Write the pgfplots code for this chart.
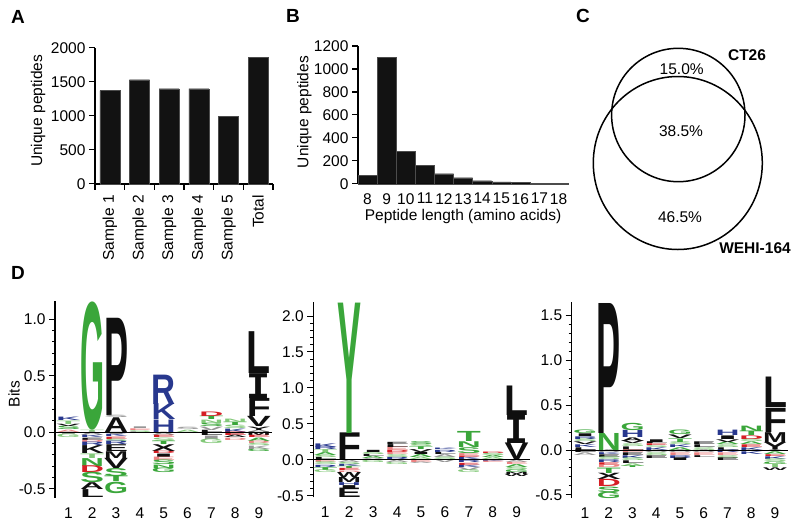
\documentclass[border=0pt]{standalone}
\usepackage{pgfplots}
\pgfplotsset{compat=1.18}
\usepackage{fontspec}
\setmainfont{Liberation Sans}
\newfontfamily\monof{Liberation Mono}
\usepackage{graphicx}

\definecolor{lg}{RGB}{58,166,58}
\definecolor{lb}{RGB}{40,56,142}
\definecolor{lr}{RGB}{214,30,36}
\definecolor{lk}{RGB}{15,15,15}
\definecolor{lpk}{RGB}{236,130,130}
\definecolor{llg}{RGB}{130,200,120}
\definecolor{lgy}{RGB}{150,150,150}

% letter of a sequence logo: x, bottom, top, letter, colour ; \U = pt per bit
\newcommand{\Ltr}[5]{\node[inner sep=0pt,outer sep=0pt,anchor=south,text=#5] at (axis cs:#1,#2) {\pgfmathsetlengthmacro\hh{((#3)-(#2))*\U}\resizebox{24pt}{\hh}{\bfseries #4}};}

\pgfplotsset{
  barpanel/.style={scale only axis, axis lines*=left, tick align=outside,
    major tick length=6pt, axis line style={line width=1.6pt},
    tick style={line width=1.2pt,black},
    /pgf/number format/assume math mode=true, /pgf/number format/1000 sep={},
    ylabel style={anchor=center}, clip=false},
  logo/.style={scale only axis, axis lines*=left, x axis line style={draw=none},
    xtick={1,...,9}, xtick style={draw=none}, tick align=outside,
    major tick length=6pt, minor tick length=3pt, minor y tick num=4,
    y axis line style={line width=1.3pt}, ytick style={line width=1pt,black},
    /pgf/number format/assume math mode=true,
    yticklabel style={/pgf/number format/.cd, fixed, fixed zerofill, precision=1},
    clip=false}
}

\begin{document}
\begin{tikzpicture}[font=\fontsize{15.5}{18}\selectfont]
\useasboundingbox (0,0) rectangle (800pt,-523pt);

% ---------------- A ----------------
\node[font=\fontsize{19}{22}\selectfont\bfseries] at (18pt,-16.7pt) {A};
\begin{axis}[barpanel, at={(95pt,-183.7pt)}, anchor=south west,
  width=178pt, height=136pt, xmin=0.5, xmax=6.5, ymin=0, ymax=2000,
  ytick={0,500,...,2000},
  xtick={0.5,1.5,...,6.5}, xticklabels={},
  extra x ticks={1,2,3,4,5,6},
  extra x tick labels={Sample 1,Sample 2,Sample 3,Sample 4,Sample 5,Total},
  extra x tick style={major tick length=0pt, xticklabel style={rotate=90, anchor=east, xshift=-8pt}},
  ylabel={Unique peptides}, ylabel style={at={(axis description cs:-0.32,0.535)}}]
\addplot[ybar, bar width=20pt, fill=black!93, draw=black!70, line width=0.4pt] coordinates {
  (1,1368) (2,1529) (3,1397) (4,1397) (5,995) (6,1863)};
\end{axis}

% ---------------- B ----------------
\node[font=\fontsize{19}{22}\selectfont\bfseries] at (293pt,-16pt) {B};
\begin{axis}[barpanel, at={(358pt,-183.7pt)}, anchor=south west,
  width=210.1pt, height=137.7pt, xmin=7.5, xmax=18.5, ymin=0, ymax=1200,
  ytick={0,200,...,1200}, xtick={8,...,18}, xtick style={draw=none},
  ylabel={Unique peptides}, ylabel style={at={(axis description cs:-0.255,0.52)}},
  xlabel={Peptide length (amino acids)}, xlabel style={at={(axis description cs:0.5,-0.24)}, anchor=center}]
\addplot[ybar, bar width=19.1pt, fill=black!93, draw=black!70, line width=0.4pt] coordinates {
  (8,70) (9,1099) (10,279) (11,157) (12,87) (13,52) (14,26) (15,15) (16,10) (17,6) (18,4)};
\end{axis}

% ---------------- C ----------------
\node[font=\fontsize{19}{22}\selectfont\bfseries] at (583pt,-16pt) {C};
\draw[line width=1.5pt] (678.3pt,-115pt) circle [radius=66.7pt];
\draw[line width=1.5pt] (677.8pt,-163pt) ellipse [x radius=84.5pt, y radius=86.5pt];
\node at (681.7pt,-69pt) {15.0\%};
\node at (681pt,-130.7pt) {38.5\%};
\node at (680pt,-216.7pt) {46.5\%};
\node[font=\fontsize{15.5}{18}\selectfont\bfseries] at (747pt,-55pt) {CT26};
\node[font=\fontsize{15.5}{18}\selectfont\bfseries] at (755pt,-248pt) {WEHI-164};

% ---------------- D ----------------
\node[font=\fontsize{19}{22}\selectfont\bfseries] at (18pt,-273pt) {D};

\def\U{113}
\begin{axis}[logo, at={(55pt,-497.8pt)}, anchor=south west,
  width=215.9pt, height=197.2pt, xmin=0.44, xmax=9.5, ymin=-0.58, ymax=1.165,
  ytick={-0.5,0,0.5,1},
  ylabel={Bits}, ylabel style={at={(axis description cs:-0.19,0.526)}, anchor=center}]
\Ltr{1}{0}{0.02}{A}{lpk}
\Ltr{1}{0.02}{0.05}{S}{lg}
\Ltr{1}{0.05}{0.07}{V}{lk}
\Ltr{1}{0.07}{0.10}{T}{llg}
\Ltr{1}{0.10}{0.13}{K}{lb}
\Ltr{1}{-0.02}{0}{I}{lgy}
\Ltr{1}{-0.05}{-0.02}{G}{llg}
\Ltr{2}{0.02}{1.14}{G}{lg}
\Ltr{2}{0}{0.02}{T}{llg}
\Ltr{2}{-0.03}{0}{A}{lgy}
\Ltr{2}{-0.05}{-0.03}{K}{lb}
\Ltr{2}{-0.07}{-0.05}{E}{lk}
\Ltr{2}{-0.09}{-0.07}{D}{lpk}
\Ltr{2}{-0.12}{-0.09}{R}{lb}
\Ltr{2}{-0.19}{-0.12}{K}{lk}
\Ltr{2}{-0.23}{-0.19}{T}{llg}
\Ltr{2}{-0.30}{-0.23}{N}{lg}
\Ltr{2}{-0.36}{-0.30}{D}{lr}
\Ltr{2}{-0.45}{-0.36}{S}{lg}
\Ltr{2}{-0.51}{-0.45}{A}{lk}
\Ltr{2}{-0.58}{-0.51}{L}{lk}
\Ltr{3}{0.15}{1.01}{P}{lk}
\Ltr{3}{0.13}{0.15}{S}{lgy}
\Ltr{3}{0}{0.13}{A}{lk}
\Ltr{3}{-0.02}{0}{I}{lgy}
\Ltr{3}{-0.04}{-0.02}{K}{lb}
\Ltr{3}{-0.06}{-0.04}{E}{lr}
\Ltr{3}{-0.08}{-0.06}{S}{llg}
\Ltr{3}{-0.11}{-0.08}{R}{lb}
\Ltr{3}{-0.17}{-0.11}{E}{lk}
\Ltr{3}{-0.23}{-0.17}{M}{lk}
\Ltr{3}{-0.32}{-0.23}{V}{lk}
\Ltr{3}{-0.39}{-0.32}{S}{lg}
\Ltr{3}{-0.44}{-0.39}{T}{lg}
\Ltr{3}{-0.54}{-0.44}{G}{lg}
\Ltr{4}{0}{0.015}{S}{llg}
\Ltr{4}{0.015}{0.03}{E}{lpk}
\Ltr{4}{0.03}{0.045}{I}{lgy}
\Ltr{4}{-0.015}{0}{L}{lgy}
\Ltr{5}{0}{0.11}{H}{lb}
\Ltr{5}{0.11}{0.25}{K}{lb}
\Ltr{5}{0.25}{0.51}{R}{lb}
\Ltr{5}{-0.03}{0}{A}{lgy}
\Ltr{5}{-0.05}{-0.03}{E}{lr}
\Ltr{5}{-0.08}{-0.05}{S}{llg}
\Ltr{5}{-0.11}{-0.08}{T}{lg}
\Ltr{5}{-0.17}{-0.11}{X}{lk}
\Ltr{5}{-0.19}{-0.17}{D}{lr}
\Ltr{5}{-0.22}{-0.19}{I}{lk}
\Ltr{5}{-0.25}{-0.22}{E}{lpk}
\Ltr{5}{-0.29}{-0.25}{S}{lg}
\Ltr{5}{-0.32}{-0.29}{N}{lg}
\Ltr{5}{-0.36}{-0.32}{G}{lg}
\Ltr{6}{0}{0.02}{A}{llg}
\Ltr{6}{0.02}{0.04}{S}{lgy}
\Ltr{6}{-0.01}{0}{L}{lgy}
\Ltr{7}{0}{0.02}{L}{lk}
\Ltr{7}{0.02}{0.05}{V}{lgy}
\Ltr{7}{0.05}{0.08}{S}{lg}
\Ltr{7}{0.08}{0.11}{N}{llg}
\Ltr{7}{0.11}{0.14}{T}{lg}
\Ltr{7}{0.14}{0.18}{D}{lr}
\Ltr{7}{-0.03}{0}{L}{lk}
\Ltr{7}{-0.06}{-0.03}{I}{lgy}
\Ltr{7}{-0.10}{-0.06}{G}{llg}
\Ltr{8}{0}{0.03}{K}{lb}
\Ltr{8}{0.03}{0.06}{S}{llg}
\Ltr{8}{0.06}{0.09}{T}{lg}
\Ltr{8}{0.09}{0.12}{N}{llg}
\Ltr{8}{-0.03}{0}{E}{lr}
\Ltr{8}{-0.05}{-0.03}{A}{lk}
\Ltr{8}{-0.07}{-0.05}{D}{lpk}
\Ltr{9}{0}{0.02}{A}{lgy}
\Ltr{9}{0.02}{0.05}{Y}{lk}
\Ltr{9}{0.05}{0.14}{V}{lk}
\Ltr{9}{0.14}{0.30}{F}{lk}
\Ltr{9}{0.30}{0.52}{\monof I}{lk}
\Ltr{9}{0.52}{0.89}{L}{lk}
\Ltr{9}{-0.03}{0}{M}{lk}
\Ltr{9}{-0.05}{-0.03}{E}{lr}
\Ltr{9}{-0.08}{-0.05}{A}{lg}
\Ltr{9}{-0.10}{-0.08}{R}{lpk}
\Ltr{9}{-0.12}{-0.10}{S}{llg}
\Ltr{9}{-0.15}{-0.12}{K}{lgy}
\Ltr{9}{-0.17}{-0.15}{G}{lg}
\addplot[black, line width=1pt] coordinates {(0.44,0) (9.55,0)};
\end{axis}

\def\U{72}
\begin{axis}[logo, at={(313.3pt,-497.4pt)}, anchor=south west,
  width=215.4pt, height=195.8pt, xmin=0.5, xmax=9.5, ymin=-0.52, ymax=2.2,
  ytick={-0.5,0,0.5,1,1.5,2}]
\Ltr{1}{0}{0.03}{L}{lk}
\Ltr{1}{0.03}{0.06}{S}{llg}
\Ltr{1}{0.06}{0.10}{A}{lg}
\Ltr{1}{0.10}{0.14}{T}{llg}
\Ltr{1}{0.14}{0.18}{R}{lb}
\Ltr{1}{0.18}{0.23}{K}{lb}
\Ltr{1}{-0.03}{0}{E}{lpk}
\Ltr{1}{-0.07}{-0.03}{S}{llg}
\Ltr{1}{-0.10}{-0.07}{R}{lb}
\Ltr{1}{-0.14}{-0.10}{T}{lg}
\Ltr{1}{-0.18}{-0.14}{G}{llg}
\Ltr{2}{0}{0.37}{F}{lk}
\Ltr{2}{0.37}{2.18}{Y}{lg}
\Ltr{2}{-0.03}{0}{A}{lgy}
\Ltr{2}{-0.06}{-0.03}{S}{llg}
\Ltr{2}{-0.09}{-0.06}{K}{lb}
\Ltr{2}{-0.12}{-0.09}{T}{lg}
\Ltr{2}{-0.15}{-0.12}{E}{lr}
\Ltr{2}{-0.17}{-0.15}{D}{lpk}
\Ltr{2}{-0.24}{-0.17}{W}{lk}
\Ltr{2}{-0.31}{-0.24}{M}{lk}
\Ltr{2}{-0.35}{-0.31}{H}{lb}
\Ltr{2}{-0.39}{-0.35}{I}{lk}
\Ltr{2}{-0.52}{-0.39}{E}{lk}
\Ltr{3}{0}{0.02}{A}{lgy}
\Ltr{3}{0.02}{0.05}{A}{lg}
\Ltr{3}{0.05}{0.08}{L}{lk}
\Ltr{3}{0.08}{0.11}{S}{llg}
\Ltr{3}{0.11}{0.14}{I}{lk}
\Ltr{3}{-0.03}{0}{G}{llg}
\Ltr{4}{0}{0.03}{R}{lb}
\Ltr{4}{0.03}{0.07}{S}{llg}
\Ltr{4}{0.07}{0.10}{E}{lpk}
\Ltr{4}{0.10}{0.13}{D}{lr}
\Ltr{4}{0.13}{0.18}{E}{lpk}
\Ltr{4}{0.18}{0.22}{L}{lk}
\Ltr{4}{0.22}{0.25}{E}{lk}
\Ltr{4}{-0.03}{0}{A}{lgy}
\Ltr{4}{-0.06}{-0.03}{G}{llg}
\Ltr{5}{0}{0.03}{A}{llg}
\Ltr{5}{0.03}{0.07}{A}{lg}
\Ltr{5}{0.07}{0.10}{I}{lk}
\Ltr{5}{0.10}{0.14}{V}{lk}
\Ltr{5}{0.14}{0.18}{T}{lg}
\Ltr{5}{0.18}{0.21}{S}{llg}
\Ltr{5}{0.21}{0.25}{S}{lg}
\Ltr{5}{-0.03}{0}{E}{lpk}
\Ltr{5}{-0.05}{-0.03}{A}{lgy}
\Ltr{6}{0}{0.04}{S}{llg}
\Ltr{6}{0.04}{0.08}{A}{lgy}
\Ltr{6}{0.08}{0.11}{L}{lk}
\Ltr{6}{0.11}{0.14}{R}{lb}
\Ltr{6}{0.14}{0.16}{K}{lb}
\Ltr{6}{-0.04}{0}{V}{lgy}
\Ltr{7}{0}{0.03}{K}{lb}
\Ltr{7}{0.03}{0.05}{E}{lr}
\Ltr{7}{0.05}{0.09}{E}{lpk}
\Ltr{7}{0.09}{0.17}{S}{lg}
\Ltr{7}{0.17}{0.25}{N}{lg}
\Ltr{7}{0.25}{0.39}{T}{lg}
\Ltr{7}{-0.04}{0}{R}{lb}
\Ltr{7}{-0.07}{-0.04}{E}{lr}
\Ltr{7}{-0.10}{-0.07}{K}{lb}
\Ltr{7}{-0.14}{-0.10}{V}{lgy}
\Ltr{7}{-0.18}{-0.14}{G}{llg}
\Ltr{8}{0}{0.03}{A}{llg}
\Ltr{8}{0.03}{0.06}{A}{lg}
\Ltr{8}{0.06}{0.09}{S}{llg}
\Ltr{8}{0.09}{0.11}{D}{lr}
\Ltr{8}{-0.02}{0}{K}{lb}
\Ltr{8}{-0.04}{-0.02}{E}{lpk}
\Ltr{9}{0}{0.23}{V}{lk}
\Ltr{9}{0.23}{0.62}{\monof I}{lk}
\Ltr{9}{0.62}{1.03}{L}{lk}
\Ltr{9}{-0.03}{0}{A}{lgy}
\Ltr{9}{-0.06}{-0.03}{E}{lpk}
\Ltr{9}{-0.10}{-0.06}{A}{lg}
\Ltr{9}{-0.13}{-0.10}{S}{llg}
\Ltr{9}{-0.17}{-0.13}{G}{lg}
\Ltr{9}{-0.20}{-0.17}{M}{lk}
\Ltr{9}{-0.23}{-0.20}{W}{lk}
\addplot[black, line width=1pt] coordinates {(0.5,0) (9.55,0)};
\end{axis}

\def\U{89.6}
\begin{axis}[logo, at={(571.7pt,-498pt)}, anchor=south west,
  width=215.2pt, height=196.2pt, xmin=0.44, xmax=9.5, ymin=-0.535, ymax=1.655,
  ytick={-0.5,0,0.5,1,1.5}]
\Ltr{1}{0}{0.03}{L}{lk}
\Ltr{1}{0.03}{0.06}{K}{lb}
\Ltr{1}{0.06}{0.09}{V}{lk}
\Ltr{1}{0.09}{0.12}{S}{llg}
\Ltr{1}{0.12}{0.15}{R}{lb}
\Ltr{1}{0.15}{0.18}{I}{lk}
\Ltr{1}{0.18}{0.22}{G}{lg}
\Ltr{1}{-0.03}{0}{E}{lk}
\Ltr{1}{-0.06}{-0.03}{A}{lgy}
\Ltr{2}{0}{0.19}{N}{lg}
\Ltr{2}{0.19}{1.64}{P}{lk}
\Ltr{2}{-0.03}{0}{A}{lgy}
\Ltr{2}{-0.05}{-0.03}{K}{lb}
\Ltr{2}{-0.08}{-0.05}{E}{lk}
\Ltr{2}{-0.11}{-0.08}{S}{llg}
\Ltr{2}{-0.14}{-0.11}{R}{lb}
\Ltr{2}{-0.17}{-0.14}{E}{lr}
\Ltr{2}{-0.20}{-0.17}{D}{lpk}
\Ltr{2}{-0.26}{-0.20}{T}{lg}
\Ltr{2}{-0.33}{-0.26}{X}{lk}
\Ltr{2}{-0.41}{-0.33}{D}{lr}
\Ltr{2}{-0.47}{-0.41}{S}{lg}
\Ltr{2}{-0.54}{-0.47}{G}{lg}
\Ltr{3}{0}{0.04}{L}{lk}
\Ltr{3}{0.04}{0.07}{S}{llg}
\Ltr{3}{0.07}{0.10}{V}{lk}
\Ltr{3}{0.10}{0.14}{A}{lk}
\Ltr{3}{0.14}{0.22}{H}{lb}
\Ltr{3}{0.22}{0.30}{G}{lg}
\Ltr{3}{-0.03}{0}{E}{lpk}
\Ltr{3}{-0.06}{-0.03}{E}{lk}
\Ltr{3}{-0.09}{-0.06}{K}{lb}
\Ltr{3}{-0.12}{-0.09}{S}{llg}
\Ltr{3}{-0.15}{-0.12}{L}{lk}
\Ltr{3}{-0.18}{-0.15}{A}{llg}
\Ltr{3}{-0.20}{-0.18}{T}{lg}
\Ltr{4}{0}{0.03}{K}{lb}
\Ltr{4}{0.03}{0.05}{S}{llg}
\Ltr{4}{0.05}{0.07}{E}{lr}
\Ltr{4}{0.07}{0.09}{L}{lk}
\Ltr{4}{0.09}{0.12}{I}{lk}
\Ltr{4}{-0.03}{0}{A}{lgy}
\Ltr{4}{-0.06}{-0.03}{S}{llg}
\Ltr{4}{-0.09}{-0.06}{E}{lk}
\Ltr{5}{0}{0.03}{A}{lg}
\Ltr{5}{0.03}{0.06}{K}{lb}
\Ltr{5}{0.06}{0.09}{S}{llg}
\Ltr{5}{0.09}{0.13}{T}{lg}
\Ltr{5}{0.13}{0.17}{V}{lk}
\Ltr{5}{0.17}{0.22}{G}{lg}
\Ltr{5}{-0.03}{0}{A}{lgy}
\Ltr{5}{-0.06}{-0.03}{E}{lpk}
\Ltr{5}{-0.09}{-0.06}{R}{lb}
\Ltr{5}{-0.12}{-0.09}{I}{lk}
\Ltr{6}{0}{0.03}{S}{llg}
\Ltr{6}{0.03}{0.06}{L}{lk}
\Ltr{6}{0.06}{0.09}{E}{lk}
\Ltr{6}{-0.03}{0}{A}{lgy}
\Ltr{6}{-0.06}{-0.03}{E}{lpk}
\Ltr{6}{-0.08}{-0.06}{L}{lk}
\Ltr{7}{0}{0.03}{L}{lk}
\Ltr{7}{0.03}{0.06}{S}{llg}
\Ltr{7}{0.06}{0.09}{A}{lg}
\Ltr{7}{0.09}{0.12}{V}{lk}
\Ltr{7}{0.12}{0.16}{I}{lk}
\Ltr{7}{0.16}{0.22}{H}{lb}
\Ltr{7}{-0.03}{0}{K}{lb}
\Ltr{7}{-0.06}{-0.03}{E}{lpk}
\Ltr{7}{-0.09}{-0.06}{S}{llg}
\Ltr{7}{-0.12}{-0.09}{E}{lk}
\Ltr{8}{0}{0.03}{K}{lb}
\Ltr{8}{0.03}{0.06}{E}{lr}
\Ltr{8}{0.06}{0.09}{A}{lg}
\Ltr{8}{0.09}{0.12}{S}{llg}
\Ltr{8}{0.12}{0.16}{D}{lr}
\Ltr{8}{0.16}{0.21}{T}{lg}
\Ltr{8}{0.21}{0.27}{N}{lg}
\Ltr{8}{-0.02}{0}{A}{lgy}
\Ltr{8}{-0.05}{-0.02}{K}{lb}
\Ltr{9}{0}{0.09}{Y}{lk}
\Ltr{9}{0.09}{0.20}{M}{lk}
\Ltr{9}{0.20}{0.47}{F}{lk}
\Ltr{9}{0.47}{0.81}{L}{lk}
\Ltr{9}{-0.02}{0}{A}{lgy}
\Ltr{9}{-0.05}{-0.02}{A}{lg}
\Ltr{9}{-0.07}{-0.05}{E}{lr}
\Ltr{9}{-0.10}{-0.07}{K}{lb}
\Ltr{9}{-0.13}{-0.10}{S}{llg}
\Ltr{9}{-0.16}{-0.13}{G}{lg}
\Ltr{9}{-0.20}{-0.16}{T}{llg}
\Ltr{9}{-0.23}{-0.20}{W}{lk}
\addplot[black, line width=1pt] coordinates {(0.44,0) (9.55,0)};
\end{axis}
\end{tikzpicture}
\end{document}
